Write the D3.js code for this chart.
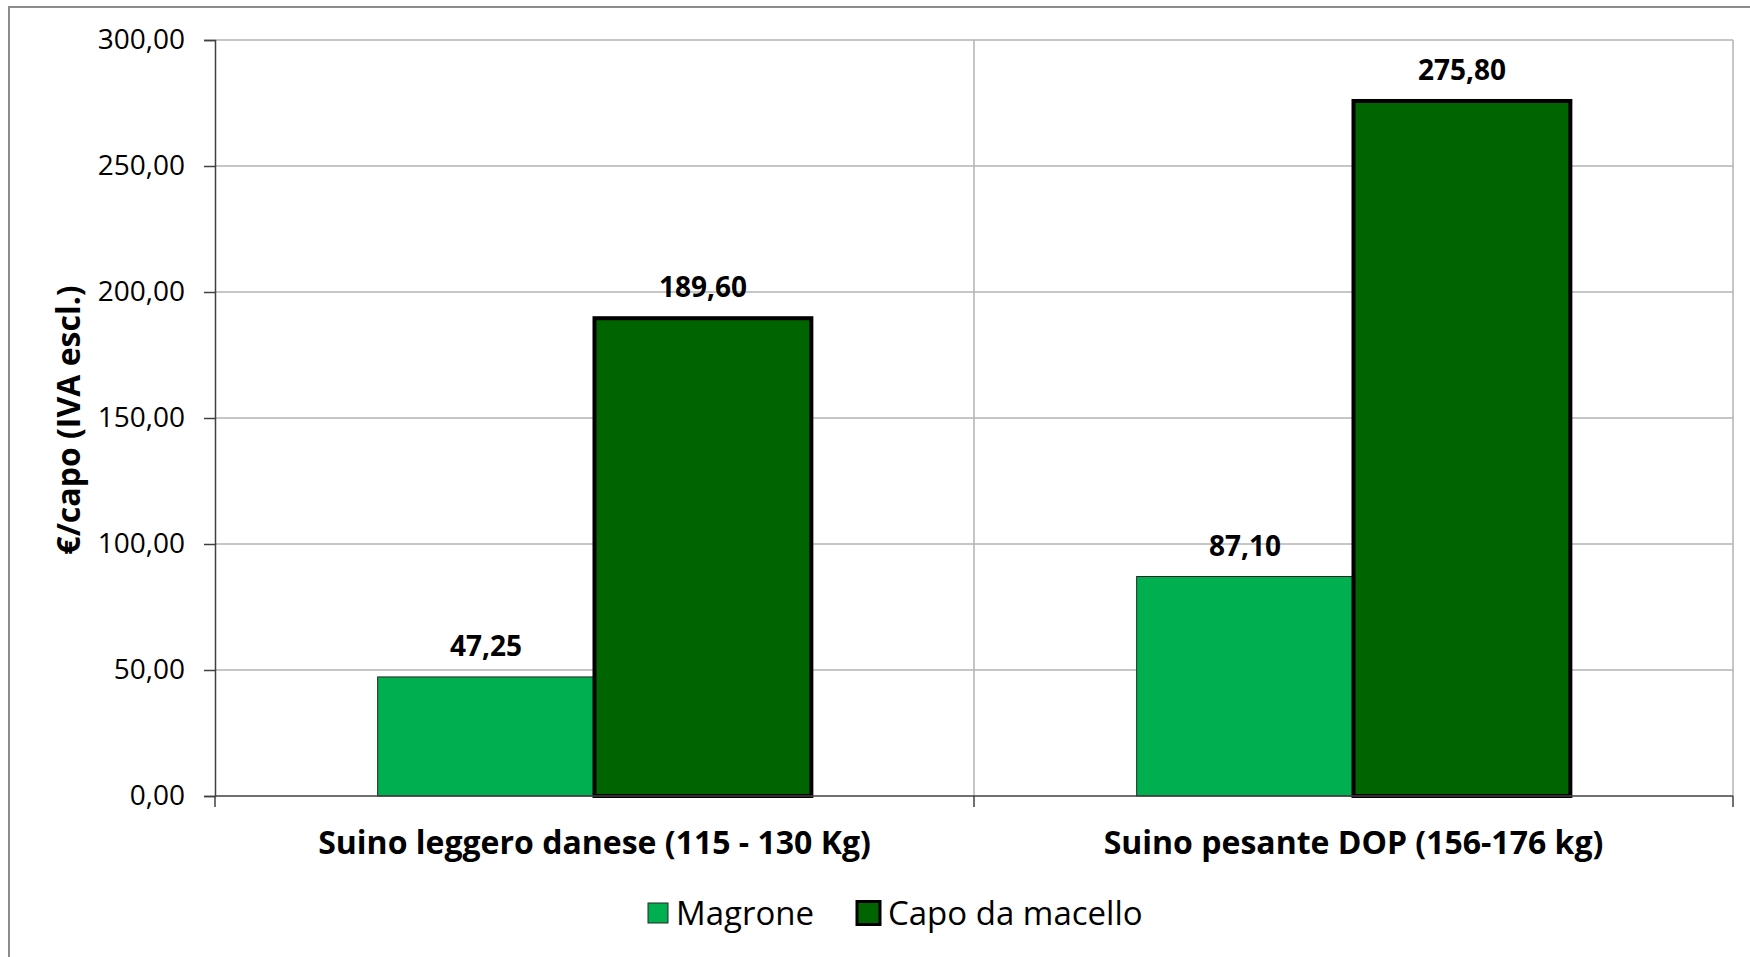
<!DOCTYPE html>
<html>
<head>
<meta charset="utf-8">
<script src="https://cdn.jsdelivr.net/npm/d3@7"></script>
<style>
    body { margin: 0; background: #fff; }
    text { font-family: "Open Sans", sans-serif; fill: #000; }
</style>
</head>
<body>
<div id="chart"></div>
<script>
// chart values
const categories = ["Suino leggero danese (115 - 130 Kg)", "Suino pesante DOP (156-176 kg)"];
const seriesNames = ["Magrone", "Capo da macello"];
const magroneValues = [47.25, 87.10];
const capoValues = [189.60, 275.80];
const yTickValues = [0, 50, 100, 150, 200, 250, 300];
const yTitle = "€/capo (IVA escl.)";

const seriesColors = { "Magrone": "#00b050", "Capo da macello": "#006400" };
const seriesStroke = { "Magrone": { c: "#262626", w: 1 }, "Capo da macello": { c: "#000", w: 4 } };

const MARGIN = { top: 40, right: 17, bottom: 161, left: 215 },
    WIDTH = 1750 - MARGIN.left - MARGIN.right,
    HEIGHT = 957 - MARGIN.top - MARGIN.bottom;

const itFormat = d3.formatLocale({ decimal: ",", thousands: ".", grouping: [3], currency: ["€", ""] }).format(",.2f");

const root = d3.select("#chart").append("svg")
    .attr("width", 1750)
    .attr("height", 957);

// outer chart border
root.append("rect")
    .attr("x", 9).attr("y", 7)
    .attr("width", 1780).attr("height", 1000)
    .attr("fill", "none")
    .attr("stroke", "#8c8c8c")
    .attr("stroke-width", 2);

const svg = root.append("g")
    .attr("transform", "translate(" + MARGIN.left + "," + MARGIN.top + ")");

const x0 = d3.scaleBand().domain(categories).range([0, WIDTH]).padding(0);
const x1 = d3.scaleBand().domain(seriesNames).range([0, x0.bandwidth()]).paddingInner(0).paddingOuter(0.75);
const y = d3.scaleLinear().domain([0, 300]).range([HEIGHT, 0]);

// horizontal gridlines
svg.append("g")
    .selectAll("line")
    .data(yTickValues.filter(d => d > 0))
    .join("line")
    .attr("x1", 0).attr("x2", WIDTH)
    .attr("y1", d => y(d)).attr("y2", d => y(d))
    .attr("stroke", "#b3b3b3").attr("stroke-width", 1.5);

// vertical gridlines at category boundaries
const bounds = categories.map(c => x0(c)).concat([WIDTH]).slice(1);
svg.append("g")
    .selectAll("line")
    .data(bounds)
    .join("line")
    .attr("x1", d => d).attr("x2", d => d)
    .attr("y1", 0).attr("y2", HEIGHT)
    .attr("stroke", "#b3b3b3").attr("stroke-width", 1.5);

// bars
const rows = categories.map((c, i) => ({ cat: c, vals: [
    { s: "Magrone", v: magroneValues[i] },
    { s: "Capo da macello", v: capoValues[i] }
] }));

const groups = svg.append("g")
    .selectAll("g")
    .data(rows)
    .join("g")
    .attr("transform", d => "translate(" + x0(d.cat) + ",0)");

groups.selectAll("rect")
    .data(d => d.vals)
    .join("rect")
    .attr("x", d => x1(d.s))
    .attr("y", d => y(d.v))
    .attr("width", x1.bandwidth())
    .attr("height", d => HEIGHT - y(d.v))
    .attr("fill", d => seriesColors[d.s])
    .attr("stroke", d => seriesStroke[d.s].c)
    .attr("stroke-width", d => seriesStroke[d.s].w);

groups.selectAll("text")
    .data(d => d.vals)
    .join("text")
    .attr("x", d => x1(d.s) + x1.bandwidth() / 2)
    .attr("y", d => y(d.v) - 21)
    .attr("text-anchor", "middle")
    .style("font-size", "28px")
    .style("font-weight", "bold")
    .text(d => itFormat(d.v));

// Y axis
const yAxis = svg.append("g")
    .call(d3.axisLeft(y).tickValues(yTickValues).tickSize(11).tickPadding(19).tickFormat(itFormat));
yAxis.select(".domain").attr("stroke", "#404040").attr("stroke-width", 1.5);
yAxis.selectAll(".tick line").attr("stroke", "#404040").attr("stroke-width", 1.5);
yAxis.selectAll(".tick text")
    .style("font-family", "'Open Sans', sans-serif")
    .style("font-size", "28px")
    .attr("fill", "#000");

// X axis (ticks at category boundaries)
const xAxisG = svg.append("g").attr("transform", "translate(0," + HEIGHT + ")");
xAxisG.append("line")
    .attr("x1", 0).attr("x2", WIDTH)
    .attr("stroke", "#404040").attr("stroke-width", 1.5);
xAxisG.selectAll(".bt")
    .data([0].concat(bounds))
    .join("line")
    .attr("class", "bt")
    .attr("x1", d => d).attr("x2", d => d)
    .attr("y1", 0).attr("y2", 11)
    .attr("stroke", "#404040").attr("stroke-width", 1.5);
xAxisG.selectAll(".cat")
    .data(categories)
    .join("text")
    .attr("class", "cat")
    .attr("x", d => x0(d) + x0.bandwidth() / 2)
    .attr("y", 58)
    .attr("text-anchor", "middle")
    .style("font-size", "32px")
    .style("font-weight", "bold")
    .text(d => d);

// Y-axis label
svg.append("text")
    .attr("transform", "rotate(-90)")
    .attr("x", -(420 - MARGIN.top))
    .attr("y", 69 - MARGIN.left + 11)
    .attr("text-anchor", "middle")
    .style("font-size", "32px")
    .style("font-weight", "bold")
    .text(yTitle);

// legend
const legend = root.append("g").attr("transform", "translate(0,913)");
const legendItems = [
    { s: seriesNames[0], x: 648, size: 20 },
    { s: seriesNames[1], x: 857, size: 23 }
];
legendItems.forEach(item => {
    legend.append("rect")
        .attr("x", item.x)
        .attr("y", -item.size / 2)
        .attr("width", item.size)
        .attr("height", item.size)
        .attr("fill", seriesColors[item.s])
        .attr("stroke", seriesStroke[item.s].c)
        .attr("stroke-width", seriesStroke[item.s].w === 1 ? 1 : 3);
    legend.append("text")
        .attr("x", item.x + item.size + 8)
        .attr("y", 12)
        .style("font-size", "33px")
        .text(item.s);
});
</script>
</body>
</html>
